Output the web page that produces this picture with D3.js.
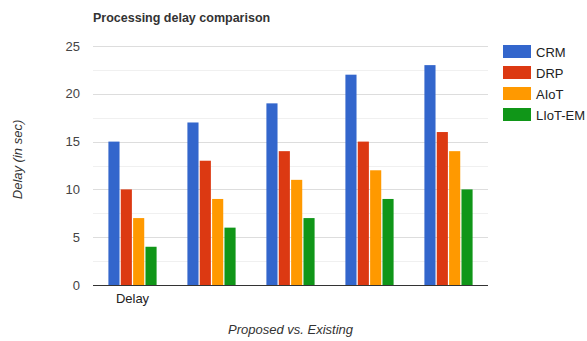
<!DOCTYPE html>
<html>
<head>
<meta charset="utf-8">
<script src="https://cdnjs.cloudflare.com/ajax/libs/d3/7.8.5/d3.min.js"></script>
<style>
body { margin: 0; background: #fff; }
text { font-family: "Liberation Sans", Arial, sans-serif; }
</style>
</head>
<body>
<div id="chart"></div>
<script>
// chart data
var groups = ["g1", "g2", "g3", "g4", "g5"];
var groupLabels = ["Delay", "", "", "", ""];
var seriesNames = ["CRM", "DRP", "AIoT", "LIoT-EM"];
var seriesColors = ["#3366cc", "#dc3912", "#ff9900", "#109618"];
var crm = [15, 17, 19, 22, 23];
var drp = [10, 13, 14, 15, 16];
var aiot = [7, 9, 11, 12, 14];
var liot = [4, 6, 7, 9, 10];
var yTicks = [0, 5, 10, 15, 20, 25];

var allSeries = [crm, drp, aiot, liot];

var W = 587, H = 341;
var margin = { top: 46, right: 99, bottom: 56, left: 93 },
    width = W - margin.left - margin.right,
    height = H - margin.top - margin.bottom;

var svg = d3.select("#chart").append("svg").attr("width", W).attr("height", H);
var g = svg.append("g").attr("transform", "translate(" + margin.left + "," + margin.top + ")");

var y = d3.scaleLinear().domain([0, 25]).range([height, 0]);
var x0 = d3.scaleBand().domain(groups).range([0, width]).paddingInner(0.39).paddingOuter(0.195);
var x1 = d3.scaleBand().domain(seriesNames).range([0, x0.bandwidth()]).paddingInner(0.1);

// minor gridlines
g.selectAll(".minor").data(d3.range(2.5, 25, 5)).enter().append("line")
    .attr("x1", 0).attr("x2", width)
    .attr("y1", function(d) { return Math.round(y(d)) + 0.5; })
    .attr("y2", function(d) { return Math.round(y(d)) + 0.5; })
    .attr("stroke", "#f0f0f0");

// major gridlines
g.selectAll(".major").data(yTicks.slice(1)).enter().append("line")
    .attr("x1", 0).attr("x2", width)
    .attr("y1", function(d) { return Math.round(y(d)) + 0.5; })
    .attr("y2", function(d) { return Math.round(y(d)) + 0.5; })
    .attr("stroke", "#dddddd");

// y tick labels
g.selectAll(".ylab").data(yTicks).enter().append("text")
    .attr("x", -13).attr("y", function(d) { return y(d) + 4.5; })
    .attr("text-anchor", "end").attr("font-size", 13).attr("fill", "#444")
    .text(function(d) { return d; });

// bars
var grp = g.selectAll(".grp").data(groups).enter().append("g")
    .attr("transform", function(d) { return "translate(" + x0(d) + ",0)"; });

grp.selectAll("rect").data(function(d, i) {
    return seriesNames.map(function(s, j) { return { s: s, v: allSeries[j][i], c: seriesColors[j] }; });
}).enter().append("rect")
    .attr("x", function(d) { return x1(d.s); })
    .attr("y", function(d) { return y(d.v); })
    .attr("width", x1.bandwidth())
    .attr("height", function(d) { return height - y(d.v); })
    .attr("fill", function(d) { return d.c; });

// baseline
g.append("line").attr("x1", 0).attr("x2", width)
    .attr("y1", height + 0.5).attr("y2", height + 0.5)
    .attr("stroke", "#333").attr("stroke-width", 1);

// x labels
g.selectAll(".xlab").data(groups).enter().append("text")
    .attr("x", function(d) { return x0(d) + x0.bandwidth() / 2; })
    .attr("y", height + 18)
    .attr("text-anchor", "middle").attr("font-size", 13).attr("fill", "#222")
    .text(function(d, i) { return groupLabels[i]; });

// title
svg.append("text").attr("x", 93).attr("y", 22)
    .attr("font-size", 12.5).attr("font-weight", "bold").attr("fill", "#333")
    .text("Processing delay comparison");

// axis titles
svg.append("text").attr("x", margin.left + width / 2).attr("y", 334)
    .attr("text-anchor", "middle").attr("font-size", 13).attr("font-style", "italic").attr("fill", "#333")
    .text("Proposed vs. Existing");

svg.append("text").attr("transform", "translate(22," + (margin.top + height / 2 - 6) + ") rotate(-90)")
    .attr("text-anchor", "middle").attr("font-size", 13).attr("font-style", "italic").attr("fill", "#333")
    .text("Delay (in sec)");

// legend
var leg = svg.selectAll(".leg").data(seriesNames).enter().append("g")
    .attr("transform", function(d, i) { return "translate(503," + (45 + i * 21) + ")"; });
leg.append("rect").attr("width", 28).attr("height", 13)
    .attr("fill", function(d, i) { return seriesColors[i]; });
leg.append("text").attr("x", 33).attr("y", 11.5)
    .attr("font-size", 13).attr("fill", "#222")
    .text(function(d) { return d; });
</script>
</body>
</html>
